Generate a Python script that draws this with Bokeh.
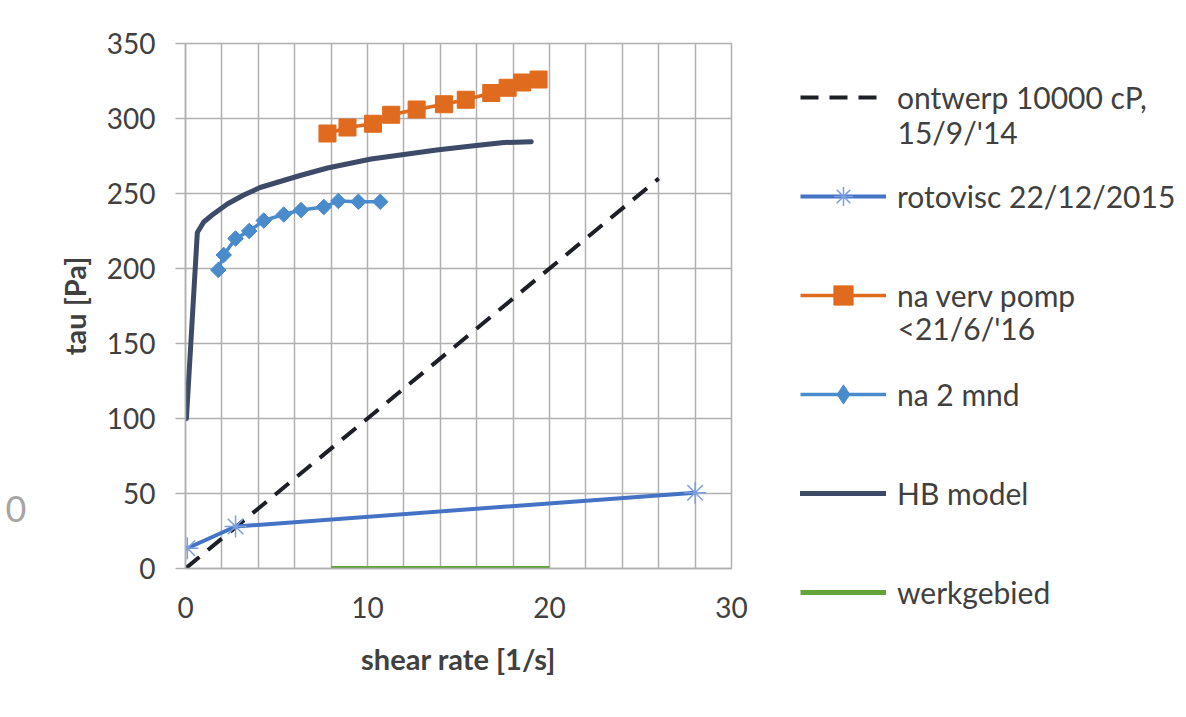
from bokeh.plotting import figure
from bokeh.layouts import row
from bokeh.models import Range1d, FixedTicker, Legend, LegendItem, LinearAxis, Label
from bokeh.embed import file_html
from bokeh.resources import INLINE

# ---- data ----
design_x = [0, 26]
design_y = [0, 260]

roto_x = [0.1, 2.75, 28.0]
roto_y = [13.5, 28, 50.5]

pomp_x = [7.8, 8.9, 10.3, 11.3, 12.7, 14.2, 15.4, 16.8, 17.7, 18.5, 19.4]
pomp_y = [290, 294, 296.5, 302.5, 306, 309.5, 312.5, 317, 320.5, 324, 326]

mnd_x = [1.8, 2.1, 2.75, 3.5, 4.3, 5.4, 6.35, 7.6, 8.4, 9.5, 10.7]
mnd_y = [199, 209, 220, 225, 232, 236, 239, 241, 245, 244.5, 244.5]

hb_x = [0.05, 0.65, 1.0, 1.5, 2.3, 3.2, 4.1, 5.2, 6.3, 7.8, 10.2, 12.0, 13.8, 15.6, 17.5, 19.0]
hb_y = [100, 224, 231, 236, 243, 249, 254, 258, 262, 267, 273, 276, 279, 281.5, 284, 284.5]

werk_x = [8, 20]
werk_y = [0, 0]

x_ticks = [0, 10, 20, 30]
y_ticks = [0, 50, 100, 150, 200, 250, 300, 350]

labels = ["ontwerp 10000 cP,", "rotovisc 22/12/2015", "na verv pomp", "na 2 mnd", "HB model", "werkgebied"]
label_lines2 = ["15/9/'14", "<21/6/'16"]

FONT = "Lato"
TXT = "#404040"
GRID = "#b0b0b0"

C_DESIGN = "#1d1f26"
C_WERK = "#62a33a"
C_ROTO = "#4472c4"
C_ROTO_M = "#7b9ee0"
C_HB = "#3d4b68"
C_MND = "#4a8bcb"
C_POMP = "#e06a1e"

H = 709
W1, W2 = 760, 426
L, R, T, B = 185, 731, 43, 568

# ================= main chart =================
p = figure(width=W1, height=H, output_backend="svg", toolbar_location=None,
           x_range=Range1d(0, 30), y_range=Range1d(0, 350),
           min_border_left=L, min_border_right=W1 - R, min_border_top=T, min_border_bottom=H - B)
p.frame_align = False
p.background_fill_color = "white"
p.border_fill_color = "white"
p.outline_line_color = GRID
p.outline_line_width = 1.5

p.xaxis.ticker = FixedTicker(ticks=x_ticks)
p.yaxis.ticker = FixedTicker(ticks=y_ticks)
for ax in (p.xaxis[0], p.yaxis[0]):
    ax.axis_line_color = GRID
    ax.axis_line_width = 1.5
    ax.major_tick_line_color = GRID
    ax.major_tick_line_width = 1.5
    ax.minor_tick_line_color = None
    ax.major_tick_in = 0
    ax.major_label_text_font = FONT
    ax.major_label_text_font_size = "28px"
    ax.major_label_text_color = TXT
    ax.axis_label_text_font = FONT
    ax.axis_label_text_font_size = "29px"
    ax.axis_label_text_font_style = "bold"
    ax.axis_label_text_color = TXT
p.xaxis.major_tick_out = 0
p.yaxis.major_tick_out = 10
p.yaxis.major_label_standoff = 20
p.xaxis.major_label_standoff = 28
p.xaxis.axis_label = "shear rate [1/s]"
p.yaxis.axis_label = "tau [Pa]"
p.xaxis.axis_label_standoff = 20
p.yaxis.axis_label_standoff = 12

# stray "0" of a neighbouring chart at the far left of the reference screenshot
stray = LinearAxis(ticker=FixedTicker(ticks=[40]), major_label_overrides={40: "0"},
                   axis_line_color=None, major_tick_line_color=None, minor_tick_line_color=None,
                   major_tick_out=0, major_tick_in=0,
                   major_label_standoff=27, major_label_text_font=FONT,
                   major_label_text_font_size="36px", major_label_text_color="#a5a5a5")
p.add_layout(stray, "left")

p.xgrid.ticker = FixedTicker(ticks=list(range(0, 31, 2)))
p.ygrid.ticker = FixedTicker(ticks=y_ticks)
p.xgrid.grid_line_color = GRID
p.ygrid.grid_line_color = GRID
p.xgrid.grid_line_width = 1.5
p.ygrid.grid_line_width = 1.5


def draw_series(fig):
    r = {}
    r["design"] = [fig.line(design_x, design_y, line_color=C_DESIGN, line_width=4, line_dash="18 11")]
    r["werk"] = [fig.line(werk_x, werk_y, line_color=C_WERK, line_width=5)]
    r["roto"] = [fig.line(roto_x, roto_y, line_color=C_ROTO, line_width=4),
                 fig.scatter(roto_x, roto_y, marker="asterisk", size=22, line_color=C_ROTO_M, line_width=1.5)]
    r["hb"] = [fig.line(hb_x, hb_y, line_color=C_HB, line_width=5, line_join="round", line_cap="round")]
    r["mnd"] = [fig.line(mnd_x, mnd_y, line_color=C_MND, line_width=3.5)]
    r["pomp"] = [fig.line(pomp_x, pomp_y, line_color=C_POMP, line_width=3.5),
                 fig.scatter(pomp_x, pomp_y, marker="square", size=17, fill_color=C_POMP, line_color=C_POMP)]
    return r


draw_series(p)
p.scatter(mnd_x, mnd_y, marker="square", size=11, angle=0.785398, fill_color=C_MND, line_color=C_MND)

# ================= legend panel =================
q = figure(width=W2, height=H, output_backend="svg", toolbar_location=None,
           x_axis_type=None, y_axis_type=None, x_range=Range1d(-100, -99), y_range=Range1d(-100, -99),
           min_border=0, min_border_left=0, min_border_right=0, min_border_top=0, min_border_bottom=0)
q.frame_align = False
q.outline_line_color = None
q.background_fill_color = "white"
q.border_fill_color = "white"
q.grid.visible = False

lr = draw_series(q)  # same series, out of this panel's view; they only feed the legend swatches
lr["mnd"].append(q.scatter(mnd_x, mnd_y, marker="diamond", size=17, fill_color=C_MND, line_color=C_MND))

items = [
    LegendItem(label=labels[0], renderers=lr["design"]),
    LegendItem(label=labels[1], renderers=lr["roto"]),
    LegendItem(label=labels[2], renderers=lr["pomp"]),
    LegendItem(label=labels[3], renderers=lr["mnd"]),
    LegendItem(label=labels[4], renderers=lr["hb"]),
    LegendItem(label=labels[5], renderers=lr["werk"]),
]
GH = 48
PITCH = 99
n = len(items)
leg_h = n * GH + (n - 1) * (PITCH - GH)
top = 97 - GH // 2
GX = 800 - W1
legend = Legend(items=items, location=(GX, H - (top + leg_h)), padding=0, margin=0,
                border_line_color=None, background_fill_alpha=0,
                glyph_width=86, glyph_height=GH, label_height=GH,
                spacing=PITCH - GH, label_standoff=11,
                label_text_font=FONT, label_text_font_size="30px", label_text_color=TXT)
q.add_layout(legend, "center")

# second lines of the two-line legend labels
for txt, yc in zip(label_lines2, [131, 327]):
    q.add_layout(Label(x=GX + 86 + 11, y=H - yc, x_units="screen", y_units="screen", text=txt,
                       text_font=FONT, text_font_size="30px", text_color=TXT,
                       text_baseline="middle", text_align="left"))

layout = row(p, q, spacing=0)
open("out.html", "w").write(file_html(layout, INLINE))
